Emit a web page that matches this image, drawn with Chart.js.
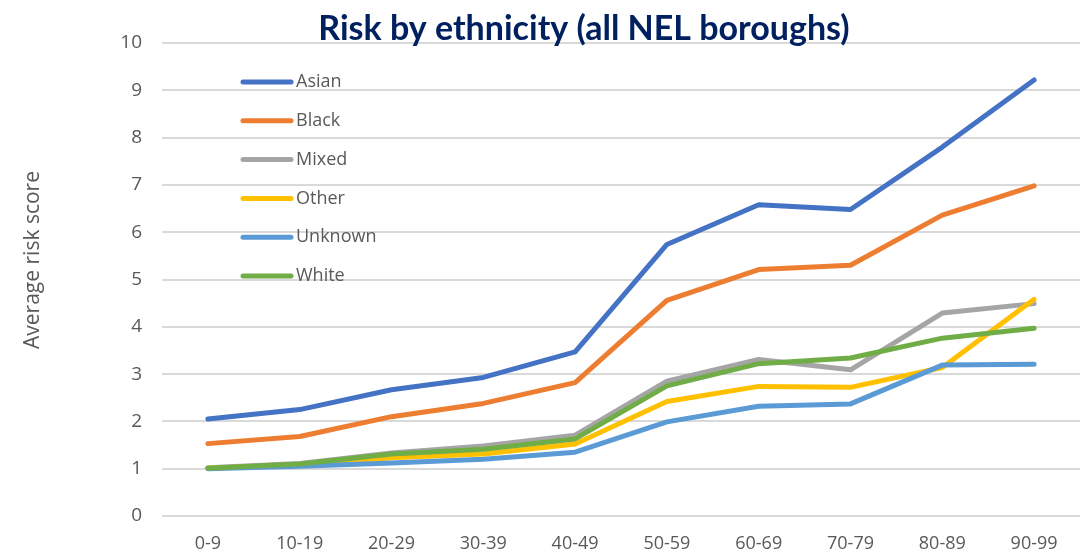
<!DOCTYPE html>
<html>
<head>
<meta charset="utf-8">
<script src="https://cdn.jsdelivr.net/npm/chart.js@4/dist/chart.umd.min.js"></script>
<style>
    html, body { margin: 0; padding: 0; background: #fff; }
    #wrap { width: 1083px; height: 555px; position: relative; }
</style>
</head>
<body>
<div id="wrap"><canvas id="riskChart"></canvas></div>
<script>
// age bands on the x axis
const ageBands = ['0-9', '10-19', '20-29', '30-39', '40-49', '50-59', '60-69', '70-79', '80-89', '90-99'];

// average risk score per ethnicity
const asian   = [2.05, 2.25, 2.67, 2.93, 3.47, 5.74, 6.58, 6.48, 7.80, 9.22];
const black   = [1.53, 1.68, 2.10, 2.38, 2.82, 4.56, 5.21, 5.30, 6.36, 6.98];
const mixed   = [1.02, 1.11, 1.33, 1.48, 1.71, 2.85, 3.31, 3.09, 4.29, 4.49];
const other   = [1.01, 1.08, 1.23, 1.31, 1.52, 2.42, 2.74, 2.72, 3.14, 4.58];
const unknown = [1.00, 1.05, 1.12, 1.20, 1.35, 1.99, 2.32, 2.37, 3.19, 3.21];
const white   = [1.01, 1.10, 1.31, 1.41, 1.63, 2.75, 3.22, 3.34, 3.76, 3.97];

const seriesNames = ['Asian', 'Black', 'Mixed', 'Other', 'Unknown', 'White'];
const seriesData = [asian, black, mixed, other, unknown, white];
const seriesColors = ['#4472C4', '#ED7D31', '#A5A5A5', '#FFC000', '#5B9BD5', '#70AD47'];

const FONT = "'Open Sans', sans-serif";
const TITLE_FONT = "Lato, 'Open Sans', sans-serif";

// Excel style legend sitting inside the plot, top left
const insideLegend = {
    id: 'insideLegend',
    afterDraw(chart) {
        const ctx = chart.ctx;
        ctx.save();
        ctx.font = '18px ' + FONT;
        ctx.textBaseline = 'middle';
        seriesNames.forEach((name, i) => {
            const y = 82 + i * 38.8;
            ctx.strokeStyle = seriesColors[i];
            ctx.lineWidth = 5;
            ctx.lineCap = 'round';
            ctx.beginPath();
            ctx.moveTo(243, y);
            ctx.lineTo(291, y);
            ctx.stroke();
            ctx.fillStyle = '#595959';
            ctx.fillText(name, 296, y);
        });
        ctx.restore();
    }
};

// chart title + y axis title (both sit off-centre in the original)
const chartTitles = {
    id: 'chartTitles',
    afterDraw(chart) {
        const ctx = chart.ctx;
        ctx.save();
        ctx.font = "bold 34px " + TITLE_FONT;
        ctx.fillStyle = '#002060';
        ctx.textAlign = 'center';
        ctx.textBaseline = 'middle';
        ctx.fillText('Risk by ethnicity (all NEL boroughs)', 584, 29);

        ctx.translate(33, 260);
        ctx.rotate(-Math.PI / 2);
        ctx.font = '21px ' + FONT;
        ctx.fillStyle = '#595959';
        ctx.fillText('Average risk score', 0, 0);
        ctx.restore();
    }
};

new Chart(document.getElementById('riskChart'), {
    type: 'line',
    data: {
        labels: ageBands,
        datasets: seriesNames.map((name, i) => ({
            label: name,
            data: seriesData[i],
            borderColor: seriesColors[i],
            backgroundColor: seriesColors[i],
            borderWidth: 5,
            pointRadius: 0,
            tension: 0,
            borderCapStyle: 'round',
            borderJoinStyle: 'round',
            order: seriesNames.length - i
        }))
    },
    options: {
        responsive: true,
        maintainAspectRatio: false,
        animation: false,
        layout: { padding: { top: 43, right: 3, left: 0, bottom: 0 } },
        plugins: {
            legend: { display: false },
            title: { display: false },
            tooltip: { enabled: false }
        },
        scales: {
            x: {
                offset: true,
                grid: { display: false, drawTicks: false },
                border: { display: false },
                ticks: { color: '#595959', font: { family: FONT, size: 18 }, padding: 17, maxRotation: 0, autoSkip: false },
                afterFit: s => { s.height = 39; }
            },
            y: {
                min: 0,
                max: 10,
                grid: { color: '#D9D9D9', lineWidth: 2, drawTicks: false },
                border: { display: false },
                ticks: { stepSize: 1, color: '#595959', font: { family: FONT, size: 19 }, padding: 20 },
                afterFit: s => { s.width = 162; }
            }
        }
    },
    plugins: [insideLegend, chartTitles]
});
</script>
</body>
</html>
